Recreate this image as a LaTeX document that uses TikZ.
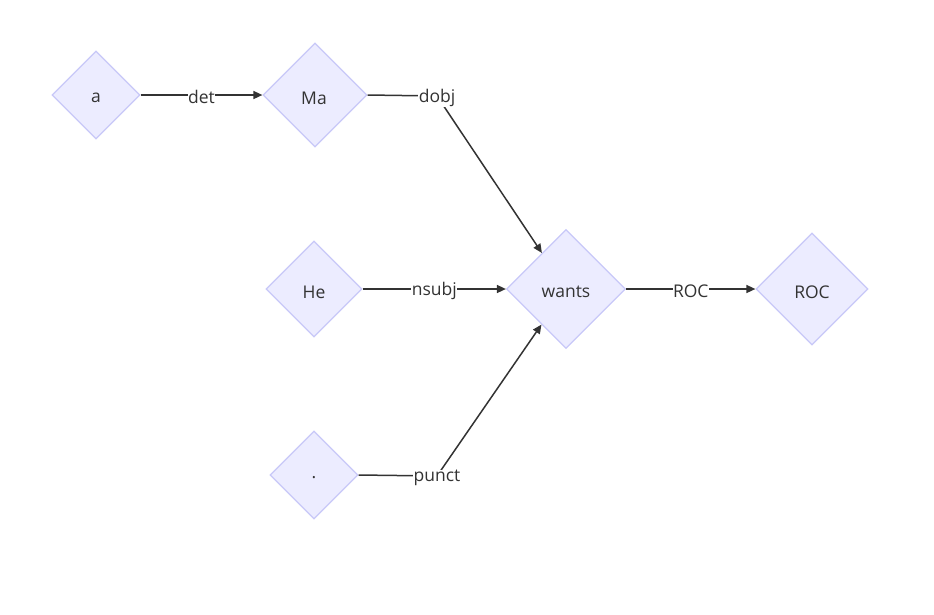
\documentclass[tikz,border=0pt]{standalone}
\usepackage{fontspec}
\setmainfont{Open Sans}
\usetikzlibrary{shapes.geometric,arrows.meta}
\definecolor{nodefill}{HTML}{ECECFF}
\definecolor{nodeline}{RGB}{200,200,248}
\definecolor{edgecol}{HTML}{333333}
\tikzset{
  dia/.style={diamond, aspect=1, draw=nodeline, line width=1.2pt, fill=nodefill,
    inner sep=0pt, text=edgecol, font=\fontsize{17.5}{20}\selectfont},
  conn/.style={draw=edgecol, line width=1.5pt, -{Triangle[length=9pt,width=8pt]}},
  elabel/.style={fill=white, inner sep=0.3pt, text=edgecol, yshift=-2pt, font=\fontsize{17.5}{20}\selectfont},
  nlabel/.style={text=edgecol, font=\fontsize{17.5}{20}\selectfont}
}
\begin{document}
\begin{tikzpicture}[x=1pt,y=-1pt]
\useasboundingbox (0,0) rectangle (934,614);
\node[dia, minimum size=88pt]  (a)     at (96,95)  {};
\node[dia, minimum size=104pt] (ma)    at (315,95) {};
\node[dia, minimum size=96pt]  (he)    at (314,289) {};
\node[dia, minimum size=119pt] (wants) at (566,289) {};
\node[dia, minimum size=112pt] (root)  at (812,289) {};
\node[dia, minimum size=88pt]  (dot)   at (314,475) {};
\node[nlabel] (ta) at (96,98) {a};
\node[nlabel] (tma) at (314,98) {Ma};
\node[nlabel] (the) at (314,292) {He};
\node[nlabel] (twants) at (566,292) {wants};
\node[nlabel] (troot) at (812,292) {ROC};
\node[nlabel] (tdot) at (314,478) {.};
\coordinate (kd) at (437,96);
\coordinate (kp) at (437,476);
\draw[conn] (a) -- (ma) node[elabel, midway] {det};
\draw[conn] (ma.east) -- (kd) -- (wants);
\draw[conn] (he) -- (wants) node[elabel, midway] {nsubj};
\draw[conn] (dot.east) -- (kp) -- (wants);
\draw[conn] (wants) -- (root) node[elabel, midway] {ROC};
\node[elabel] (ld) at (kd) {dobj};
\node[elabel] (lp) at (kp) {punct};
\end{tikzpicture}
\end{document}
